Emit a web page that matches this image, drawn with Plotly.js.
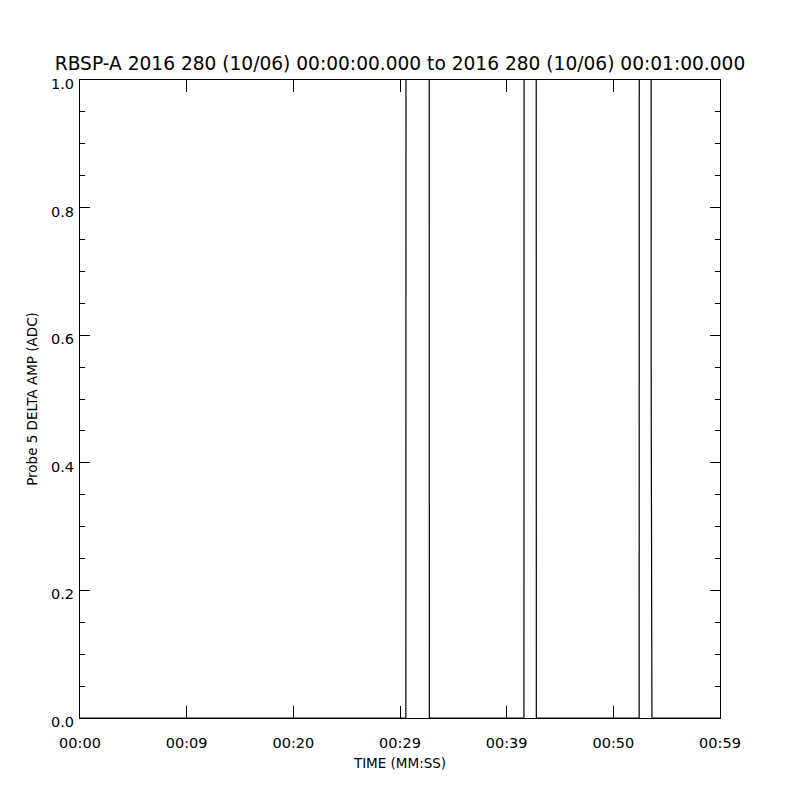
<!DOCTYPE html>
<html>
<head>
<meta charset="utf-8">
<script src="https://cdn.plot.ly/plotly-3.0.1.min.js"></script>
<style>html,body{margin:0;padding:0;background:#fff;}</style>
</head>
<body>
<div id="chart" style="width:800px;height:800px;"></div>
<script>
// Time in seconds after 00:00:00
var timeSec = [0, 30.55, 30.58, 32.72, 32.75, 41.62, 41.65, 42.75, 42.78, 52.42, 52.45, 53.5, 53.55, 53.62, 60];
// Probe 5 DELTA AMP (ADC); values between spike edges are off-scale (>1)
var deltaAmp = [0, 0, 3, 3, 0, 0, 3, 3, 0, 0, 3, 3, 0.5, 0, 0];

var xTickVals = [0, 10, 20, 30, 40, 50, 60];
var xTickText = ["00:00", "00:09", "00:20", "00:29", "00:39", "00:50", "00:59"];
var yTickVals = [0, 0.2, 0.4, 0.6, 0.8, 1.0];
var yTickText = ["0.0", "0.2", "0.4", "0.6", "0.8", "1.0"];

var fam = "DejaVu Sans, Liberation Sans, sans-serif";

Plotly.newPlot("chart", [{
  x: timeSec,
  y: deltaAmp,
  type: "scatter",
  mode: "lines",
  line: {color: "#000", width: 1.2},
  hoverinfo: "none"
}], {
  width: 800,
  height: 800,
  paper_bgcolor: "#fff",
  plot_bgcolor: "#fff",
  showlegend: false,
  margin: {l: 80, r: 80, t: 80, b: 82},
  title: {
    text: "RBSP-A 2016 280 (10/06) 00:00:00.000 to 2016 280 (10/06) 00:01:00.000",
    font: {family: fam, color: "#000", size: 18.6},
    x: 0.5, xanchor: "center", y: 0.921, yanchor: "middle"
  },
  xaxis: {
    range: [0, 60],
    tickmode: "array",
    tickvals: xTickVals,
    ticktext: xTickText,
    ticks: "inside",
    ticklen: 12,
    tickcolor: "#000",
    ticklabelstandoff: 12,
    showline: true, linecolor: "#000", linewidth: 1, mirror: "ticks",
    showgrid: false, zeroline: false,
    tickfont: {family: fam, color: "#000", size: 14.5},
    title: {text: "TIME (MM:SS)", font: {family: fam, color: "#000", size: 13.5}, standoff: 8}
  },
  yaxis: {
    range: [0, 1],
    tickmode: "array",
    tickvals: yTickVals,
    ticktext: yTickText,
    ticks: "inside",
    ticklen: 10,
    tickcolor: "#000",
    ticklabelstandoff: 2,
    ticklabelshift: 4,
    minor: {dtick: 0.05, ticks: "inside", ticklen: 5, tickcolor: "#000", showgrid: false},
    showline: true, linecolor: "#000", linewidth: 1, mirror: "ticks",
    showgrid: false, zeroline: false,
    tickfont: {family: fam, color: "#000", size: 14.5},
    title: {text: "Probe 5 DELTA AMP (ADC)", font: {family: fam, color: "#000", size: 13.5}, standoff: 10}
  }
}, {displayModeBar: false, staticPlot: true});
</script>
</body>
</html>
